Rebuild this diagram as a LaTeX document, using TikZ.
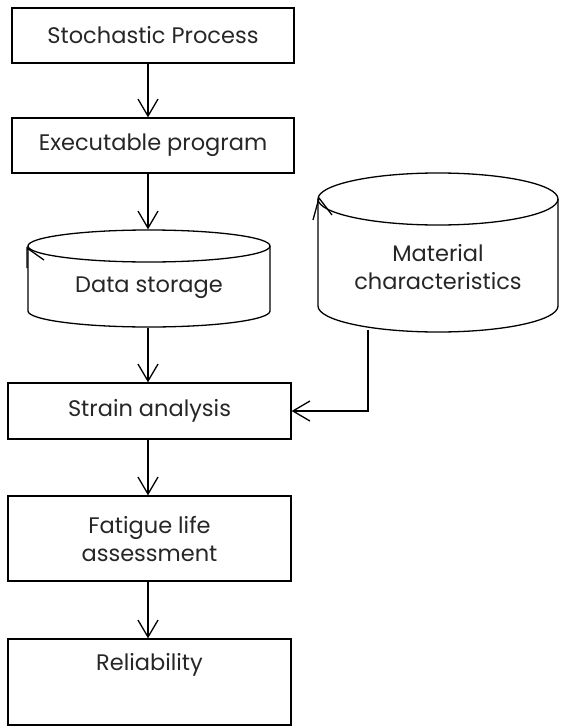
\documentclass[tikz,border=0pt]{standalone}
\usepackage{fontspec}
\setmainfont{Poppins}
\usetikzlibrary{arrows.meta}
\begin{document}
\begin{tikzpicture}[x=1pt,y=-1pt,line width=1.3pt,
  txt/.style={font=\fontsize{22.5}{28}\selectfont\color{black!85}},
  box/.style={draw, rectangle, inner sep=0pt, align=center, txt},
  ghost/.style={draw=none, rectangle, inner sep=0pt},
  arr/.style={-{Straight Barb[length=17pt,width=20pt,line width=1.3pt]}}]
\useasboundingbox (0,0) rectangle (560,728);

% boxes
\node[box, minimum width=282pt, minimum height=55pt] (sp) at (153,35.5) {Stochastic Process};
\node[box, minimum width=282pt, minimum height=55pt] (ep) at (153,145.5) {Executable program};
\node[box, minimum width=283pt, minimum height=56pt] (sa) at (149.5,411) {Strain analysis};
\node[box, minimum width=283pt, minimum height=85pt] (fl) at (149.5,538.5) {Fatigue life\\assessment};
\node[box, minimum width=283pt, minimum height=86pt,
      label={[txt, anchor=center, yshift=-26pt, name=relt]north:Reliability}] (re) at (149.5,682) {};

% Data storage cylinder
\node[ghost, minimum width=242pt, minimum height=97pt] (ds) at (149,278.5) {};
\draw (149,246) ellipse [x radius=121pt, y radius=16pt];
\draw (28,246) -- (28,311) arc[start angle=180, end angle=360, x radius=121pt, y radius=16pt] -- (270,246);
\draw (27,268) -- (27,248) -- (44,260);
\node[txt] (dst) at (149,288) {Data storage};

% Material characteristics cylinder
\node[ghost, minimum width=240pt, minimum height=159pt] (mc) at (438,252.5) {};
\draw (438,199) ellipse [x radius=120pt, y radius=26pt];
\draw (318,199) -- (318,306) arc[start angle=180, end angle=360, x radius=120pt, y radius=26pt] -- (558,199);
\draw (313,220) -- (319,198) -- (332,215);
\node[txt, align=center] (mct) at (438,267) {Material\\characteristics};

% connectors
\draw[arr] ([xshift=-5pt]sp.south) -- ([xshift=-5pt]ep.north);
\draw[arr] ([xshift=-5pt]ep.south) -- ([xshift=-1pt]ds.north);
\draw[arr] ([xshift=-1pt]ds.south) -- ([xshift=-1.5pt]sa.north);
\draw[arr] ([xshift=-70pt,yshift=3pt]mc.south) |- (sa.east);
\draw[arr] ([xshift=-1.5pt]sa.south) -- ([xshift=-1.5pt]fl.north);
\draw[arr] ([xshift=-1.5pt]fl.south) -- ([xshift=-1.5pt]re.north);
\end{tikzpicture}
\end{document}
